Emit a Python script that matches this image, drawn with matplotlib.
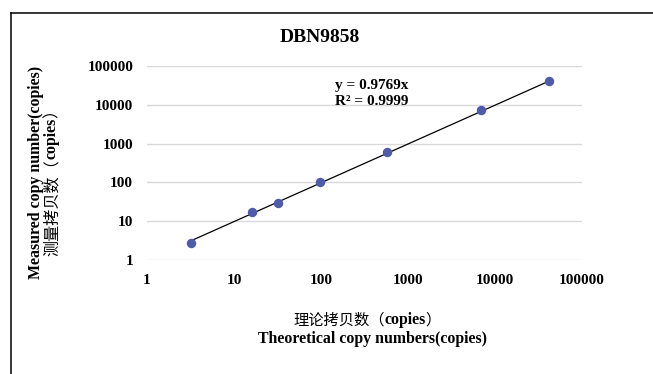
import matplotlib.pyplot as plt
import numpy as np
from matplotlib.lines import Line2D

# theoretical vs measured copy numbers
theoretical = [3.2, 16, 32, 97, 580, 6900, 41500]
measured = [2.8, 17, 30, 102, 605, 7200, 41000]
slope = 0.9769
r2 = 0.9999
ticks = [1, 10, 100, 1000, 10000, 100000]
tick_labels = ["1", "10", "100", "1000", "10000", "100000"]

SERIF = "Liberation Serif"
CJK = "Noto Sans CJK SC"
FS = 11.4

W, H = 653, 374
fig = plt.figure(figsize=(W / 100, H / 100), dpi=100)

# plot area in pixel coordinates
x0, x1, y0, y1 = 147, 582, 66, 260
ax = fig.add_axes([x0 / W, 1 - y1 / H, (x1 - x0) / W, (y1 - y0) / H])
ax.set_xscale("log")
ax.set_yscale("log")
ax.set_xlim(1, 100000)
ax.set_ylim(1, 100000)

for s in ax.spines.values():
    s.set_visible(False)
ax.grid(axis="y", color="#d9d9d9", linewidth=1.0)
ax.grid(axis="x", visible=False)
ax.set_axisbelow(True)

ax.set_xticks(ticks)
ax.set_xticklabels(tick_labels)
ax.set_yticks(ticks)
ax.set_yticklabels(tick_labels)
ax.minorticks_off()
ax.tick_params(length=0)
ax.tick_params(axis="x", pad=10)
ax.tick_params(axis="y", pad=10)
for lab in ax.get_xticklabels() + ax.get_yticklabels():
    lab.set_fontfamily(SERIF)
    lab.set_fontweight("bold")
    lab.set_fontsize(11)

# linear trendline through origin
xt = np.array([min(theoretical), max(theoretical)])
ax.plot(xt, slope * xt, color="black", linewidth=0.9, zorder=2)
ax.plot(theoretical, measured, "o", color="#4f5baa", markersize=6.8,
        markeredgewidth=0, zorder=3)

ax.text(335 / W, 1 - 86 / H, f"y = {slope}x", transform=fig.transFigure,
        fontfamily=SERIF, fontweight="bold", fontsize=11, va="center")
ax.text(335 / W, 1 - 101.5 / H, f"R² = {r2}", transform=fig.transFigure,
        fontfamily=SERIF, fontweight="bold", fontsize=11, va="center")

fig.text(320 / W, 1 - 37 / H, "DBN9858", fontfamily=SERIF,
         fontweight="bold", fontsize=14, ha="center", va="center")

# x label: Chinese line with bold "copies", then English line
t1 = fig.text(293 / W, 1 - 320 / H, "理论拷贝数（", fontfamily=CJK,
              fontsize=11, ha="left", va="center")
c1 = ax.annotate("copies", xy=(1, 0.5), xycoords=t1, ha="left", va="center",
                 fontfamily=SERIF, fontweight="bold", fontsize=FS,
                 annotation_clip=False)
ax.annotate("）", xy=(1, 0.5), xycoords=c1, ha="left", va="center",
            fontfamily=CJK, fontsize=11, annotation_clip=False)
fig.text(372 / W, 1 - 339 / H, "Theoretical copy numbers(copies)",
         fontfamily=SERIF, fontweight="bold", fontsize=FS,
         ha="center", va="center")

# y label: English line, then rotated Chinese line
fig.text(36 / W, 1 - 172 / H, "Measured copy number(copies)", rotation=90,
         fontfamily=SERIF, fontweight="bold", fontsize=FS,
         ha="center", va="center")
r1 = fig.text(52 / W, 1 - 256 / H, "测量拷贝数（", rotation=90,
              fontfamily=CJK, fontsize=11.6, ha="center", va="bottom")
r2t = ax.annotate("copies", xy=(0.5, 1), xycoords=r1, rotation=90,
                  ha="center", va="bottom", fontfamily=SERIF,
                  fontweight="bold", fontsize=FS, annotation_clip=False)
ax.annotate("）", xy=(0.5, 1), xycoords=r2t, rotation=90, ha="center",
            va="bottom", fontfamily=CJK, fontsize=11.6, annotation_clip=False)

# frame lines along the top and left edge
fig.add_artist(Line2D([11 / W, 1], [1 - 12.5 / H, 1 - 12.5 / H],
                      color="black", linewidth=1.1))
fig.add_artist(Line2D([11 / W, 11 / W], [0, 1 - 12.5 / H],
                      color="black", linewidth=1.1))

fig.savefig("out.png", dpi=100)
